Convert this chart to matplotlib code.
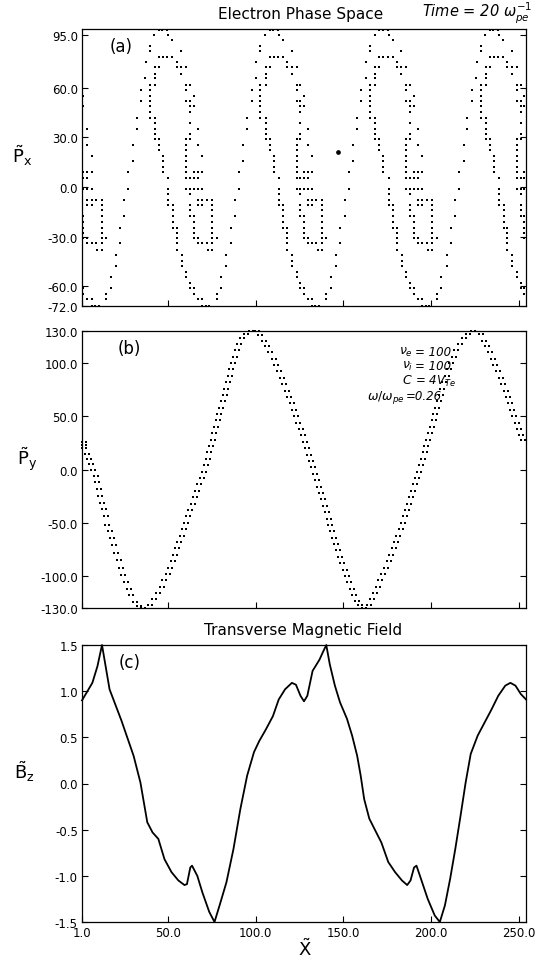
import matplotlib
matplotlib.use('Agg')
import matplotlib.pyplot as plt
from matplotlib.path import Path

# ---------------- data ----------------
# panel (a): electron P_x phase space, one period read row by row (y, dots x)
pa_rows_y = [95.0, 91.8, 88.8, 85.2, 82.4, 78.4, 75.4, 72.2, 68.4, 65.8,
             61.8, 58.4, 55.2, 51.8, 48.8, 45.4, 41.8, 38.4, 35.2, 31.8,
             28.8, 25.4, 22.2, 18.8, 15.8, 12.2, 8.8, 5.2, -1.0, -4.6,
             -7.8, -11.2, -14.2, -17.8, -21.2, -24.6, -27.8, -31.2, -34.2, -38.2,
             -41.2, -44.6, -47.8, -51.2, -54.6, -58.2, -61.2, -64.6, -67.8, -72.0]
pa_rows_x = [
    [44.9, 46.8, 49.6], [42.2, 50.2], [52.5], [39.7], [39.7, 57.4],
    [44.9, 47.3, 49.6, 52.5], [37.3, 54.9], [42.6, 44.9, 54.9, 57.4, 60.3],
    [42.6, 57.4], [37.1, 42.6],
    [39.7, 42.6, 60.3, 62.5], [34.6, 39.7, 60.3], [1.8, 39.7],
    [34.6, 39.7, 60.3, 62.5], [1.8, 39.7, 62.5], [39.7, 62.5],
    [32.1, 39.7, 42.6], [42.6, 62.5], [4.0, 32.1, 42.6], [42.6, 62.5],
    [42.6, 44.9, 60.3, 62.5], [4.0, 29.9, 44.9, 60.3], [44.9, 60.3],
    [6.5, 47.3, 60.3], [29.9, 47.3, 60.3], [47.3, 60.3],
    [1.8, 4.0, 6.5, 27.4, 47.3, 60.3], [1.8, 4.0, 50.2, 60.3, 62.5],
    [1.8, 4.0, 6.5, 27.4, 50.2, 60.3, 62.5], [50.2, 62.5],
    [4.0, 6.5, 9.0, 12.2, 25.1, 50.2], [4.0, 6.5, 12.2, 50.2, 52.7, 62.5],
    [12.2, 52.7, 62.5], [1.8, 12.2, 25.1, 52.7, 62.5], [1.8, 12.2, 52.7],
    [1.8, 12.2, 22.7, 52.7, 54.9], [1.8, 12.2, 54.9],
    [1.8, 4.0, 12.2, 14.7, 54.9], [4.0, 6.5, 9.0, 12.2, 22.7, 54.9],
    [9.7, 12.2, 54.9],
    [20.2, 57.8], [57.8], [20.2, 57.8], [60.3], [17.3, 60.3], [62.5],
    [1.8, 17.3, 62.5], [1.8, 14.7], [4.0, 6.5, 14.7], [6.5, 8.5, 10.5]]
# start of each repeated period (from the peak positions)
pa_period_x0 = [0.0, 63.0, 125.5, 188.5]
# column of dots against the right frame
pa_edge_x = 253.0
pa_edge_y = [55.2, 48.8, 8.8, 5.2, -1.0, -17.8, -21.2, -24.6, -27.8, -31.2, -61.2, -64.6]
pa_blob_x, pa_blob_y = 146.9, 21.0

# panel (b): P_y, centre of the doubled dot track
pb_x = [2.2, 2.2, 2.2, 3.8, 5.2, 6.3, 7.5, 8.8, 9.5, 10.5, 11.5, 12.5, 13.5, 14.5,
        15.5, 17.0, 18.0, 19.5, 20.5, 22.0, 23.0, 24.5, 26.0, 27.5, 29.0, 31.0, 33.5, 36.0,
        39.5, 42.0, 44.5, 46.5, 48.0, 50.0, 51.3, 52.6, 53.9, 55.1, 56.4, 57.7, 59.0, 60.2,
        61.5, 62.8, 64.0, 65.3, 66.6, 67.8, 69.1, 70.4, 71.6, 72.6, 73.5, 74.5, 75.5, 76.4,
        77.4, 78.3, 79.3, 80.3, 81.2, 82.2, 83.1, 84.1, 85.1, 86.0, 87.0, 88.1, 89.3, 90.6,
        92.2, 94.2, 97.5,
        100.5, 102.5, 104.5, 106.3, 108.3, 110.2, 111.8, 113.3, 114.8, 116.2, 117.6, 119.0,
        120.4, 121.7, 123.0, 124.3, 125.6, 126.9, 128.1, 129.3, 130.5, 131.6, 132.7, 133.8,
        134.9, 136.0, 137.1, 138.2, 139.3, 140.4, 141.5, 142.6, 143.7, 144.8, 145.9, 147.0,
        148.2, 149.4, 150.6, 151.9, 153.2, 154.6, 156.1, 157.8, 159.5, 161.5,
        164.5, 166.3, 168.0, 169.5, 171.0, 172.6, 174.2, 175.8, 177.2, 178.6, 180.0, 181.3,
        182.6, 183.8, 185.0, 186.2, 187.4, 188.6, 189.8, 191.0, 192.1, 193.2, 194.3, 195.3,
        196.3, 197.3, 198.3, 199.3, 200.3, 201.3, 202.3, 203.3, 204.3, 205.3, 206.4, 207.5,
        208.7, 210.0, 211.3, 212.7, 214.3, 216.2, 218.5, 220.8, 224.0,
        228.5, 230.2, 231.8, 233.4, 235.0, 236.6, 238.1, 239.6, 241.0, 242.4, 243.7, 245.0,
        246.2, 247.4, 248.6, 249.8, 251.0, 252.2]
pb_y = [26, 23, 20, 15, 10, 5, 0, -6, -12, -18, -25, -31, -37, -44,
        -52, -58, -64, -71, -78, -85, -92, -99, -106, -112, -118, -124, -128, -130,
        -127, -122, -116, -110, -104, -98, -92, -86, -80, -74, -68, -62, -56, -50,
        -44, -38, -32, -26, -20, -14, -8, -2, 4, 10, 16, 22, 28, 34,
        40, 46, 52, 58, 64, 70, 76, 82, 88, 94, 100, 106, 112, 118,
        123, 127, 130,
        130, 126, 121, 116, 110, 104, 98, 92, 86, 80, 74, 68,
        62, 56, 50, 44, 38, 32, 26, 20, 14, 8, 2, -4,
        -10, -16, -22, -28, -34, -40, -46, -52, -58, -64, -70, -76,
        -82, -88, -94, -100, -106, -112, -118, -123, -127, -130,
        -127, -122, -116, -110, -104, -98, -92, -86, -80, -74, -68, -62,
        -56, -50, -44, -38, -32, -26, -20, -14, -8, -2, 4, 10,
        16, 22, 28, 34, 40, 46, 52, 58, 64, 70, 76, 82,
        88, 94, 100, 106, 112, 118, 123, 127, 130,
        127, 121, 116, 110, 104, 98, 92, 86, 80, 74, 68, 62,
        56, 50, 44, 38, 32, 28]

# panel (c): transverse magnetic field
bz_x = [1, 6.9, 9.8, 12.4, 16.7, 23.5, 30.4, 34.3, 38.2, 41.2, 44.5, 48, 52, 55.9,
        59.4, 60.8, 62.7, 63.7, 66.7, 69.6, 73.5, 76.5, 79.4, 83.3, 87.3, 91.2, 95.1, 99,
        102, 105.9, 109.8, 113.1, 116.7, 120.6, 122.9, 125.5, 127.5, 129.4, 132.4, 136.3,
        138.2, 140.2, 142.2, 145.1, 148, 152, 154.9, 157.8, 159.8, 161.8, 164.7, 167.6,
        171.6, 175.5, 179.4, 183.3, 186.3, 188.2, 190.2, 191.6, 194.1, 198, 202, 204.9,
        207.8, 210.8, 213.7, 216.7, 219.6, 222.5, 226.5, 230.4, 234.3, 238.2, 242.2,
        245.1, 248, 251, 254]
bz_y = [0.9, 1.09, 1.27, 1.5, 1.02, 0.68, 0.30, 0.01, -0.42, -0.53, -0.60, -0.82, -0.96, -1.05,
        -1.10, -1.09, -0.91, -0.89, -1.0, -1.18, -1.39, -1.5, -1.32, -1.07, -0.71, -0.28, 0.085, 0.34,
        0.46, 0.59, 0.73, 0.91, 1.02, 1.09, 1.07, 0.95, 0.89, 0.95, 1.22, 1.34,
        1.42, 1.5, 1.29, 1.06, 0.88, 0.70, 0.52, 0.30, 0.085, -0.17, -0.38, -0.49,
        -0.64, -0.85, -0.96, -1.05, -1.10, -1.05, -0.91, -0.89, -1.03, -1.25, -1.43, -1.5,
        -1.32, -1.03, -0.71, -0.35, 0.01, 0.32, 0.52, 0.66, 0.80, 0.95, 1.06,
        1.09, 1.06, 0.97, 0.91]

# ticks
x_ticks = [1, 50, 100, 150, 200, 250]
x_labels = ['1.0', '50.0', '100.0', '150.0', '200.0', '250.0']
pa_ticks = [91.5, 60, 30, 0, -30, -60, -72]
pa_labels = ['95.0', '60.0', '30.0', '0.0', '-30.0', '-60.0', '-72.0']
pb_ticks = [130, 100, 50, 0, -50, -100, -130]
pb_labels = ['130.0', '100.0', '50.0', '0.0', '-50.0', '-100.0', '-130.0']
bz_ticks = [1.5, 1.0, 0.5, 0.0, -0.5, -1.0, -1.5]
bz_labels = ['1.5', '1.0', '0.5', '0.0', '-0.5', '-1.0', '-1.5']

# ---------------- figure ----------------
W, H = 539, 970
fig = plt.figure(figsize=(W / 100, H / 100), dpi=100)


def box(top, bot):
    return [82 / W, 1 - bot / H, 444 / W, (bot - top) / H]


ax_a = fig.add_axes(box(30, 307))
ax_b = fig.add_axes(box(332, 609))
ax_c = fig.add_axes(box(646, 923))

for ax in (ax_a, ax_b, ax_c):
    ax.set_xlim(1, 254)
    ax.set_xticks(x_ticks)
    ax.tick_params(direction='in', length=4, width=0.8, right=True, top=False,
                   labelsize=8.5, pad=3)
    for s in ax.spines.values():
        s.set_linewidth(0.9)
ax_a.set_xticklabels([])
ax_b.set_xticklabels([])
ax_c.set_xticklabels(x_labels)

# (a) phase space dots
xs, ys = [], []
for x0 in pa_period_x0:
    for yv, row in zip(pa_rows_y, pa_rows_x):
        for xv in row:
            xs.append(xv + x0)
            ys.append(yv)
xs += [pa_edge_x] * len(pa_edge_y)
ys += pa_edge_y
ax_a.plot(xs, ys, ls='none', marker='s', ms=1.9, mew=0, color='k', clip_on=False)
ax_a.plot([pa_blob_x], [pa_blob_y], ls='none', marker='o', ms=3.4, mew=0, color='k')
ax_a.set_ylim(-72, 95.4)
ax_a.set_yticks(pa_ticks)
ax_a.set_yticklabels(pa_labels)
ax_a.text(0.063, 0.94, '(a)', transform=ax_a.transAxes, fontsize=12, va='center')

# (b) doubled-dot marker for the P_y track
s = 0.6
verts, codes = [], []
for cx in (-1.0, 1.0):
    verts += [(cx - s, -s), (cx + s, -s), (cx + s, s), (cx - s, s), (cx - s, -s)]
    codes += [Path.MOVETO, Path.LINETO, Path.LINETO, Path.LINETO, Path.CLOSEPOLY]
pair = Path(verts, codes)
ax_b.plot(pb_x, pb_y, ls='none', marker=pair, ms=4.2, mew=0, color='k', clip_on=False)
ax_b.set_ylim(-130, 130)
ax_b.set_yticks(pb_ticks)
ax_b.set_yticklabels(pb_labels)
ax_b.text(0.081, 0.94, '(b)', transform=ax_b.transAxes, fontsize=12, va='center')


def bx(px):
    return (px - 82) / 444


def by(py):
    return 1 - (py - 332) / 277


params_l = [r'$\nu_e$', r'$\nu_i$', r'$C$']
params_r = ['= 100', '= 100', r'= 4$V_{Te}$']
for i, (l, r) in enumerate(zip(params_l, params_r)):
    py = 352 + 14.5 * i
    ax_b.text(bx(413), by(py), l, transform=ax_b.transAxes, ha='right', va='center',
              fontsize=9, style='italic')
    ax_b.text(bx(415), by(py), r, transform=ax_b.transAxes, ha='left', va='center',
              fontsize=8.5, style='italic')
ax_b.text(bx(405), by(397), r'$\omega/\omega_{pe}$', transform=ax_b.transAxes,
          ha='right', va='center', fontsize=9)
ax_b.text(bx(406), by(397), '=0.26', transform=ax_b.transAxes, ha='left', va='center',
          fontsize=8.5, style='italic')

# (c) magnetic field
ax_c.plot(bz_x, bz_y, color='k', lw=1.3, clip_on=False)
ax_c.set_ylim(-1.5, 1.5)
ax_c.set_yticks(bz_ticks)
ax_c.set_yticklabels(bz_labels)
ax_c.text(0.082, 0.939, '(c)', transform=ax_c.transAxes, fontsize=12, va='center')

# axis labels
ax_a.set_ylabel(r'$\tilde{\mathrm{P}}_{\mathrm{x}}$', rotation=0, fontsize=13)
ax_a.yaxis.set_label_coords(-0.135, 0.5)
ax_b.set_ylabel(r'$\tilde{\mathrm{P}}_{\mathrm{y}}$', rotation=0, fontsize=13)
ax_b.yaxis.set_label_coords(-0.124, 0.49)
ax_c.set_ylabel(r'$\tilde{\mathrm{B}}_{\mathrm{z}}$', rotation=0, fontsize=13)
ax_c.yaxis.set_label_coords(-0.13, 0.5)
fig.text(305 / W, 1 - 949 / H, r'$\tilde{\mathrm{X}}$', ha='center', va='center', fontsize=13)

# titles
fig.text(301 / W, 1 - 14 / H, 'Electron Phase Space', ha='center', va='center', fontsize=11)
fig.text(422 / W, 1 - 13 / H, r'Time = 20 $\omega_{pe}^{-1}$', ha='left', va='center',
         fontsize=10.5, style='italic')
fig.text(303 / W, 1 - 631 / H, 'Transverse Magnetic Field', ha='center', va='center',
         fontsize=11)

fig.savefig('out.png', dpi=100)
